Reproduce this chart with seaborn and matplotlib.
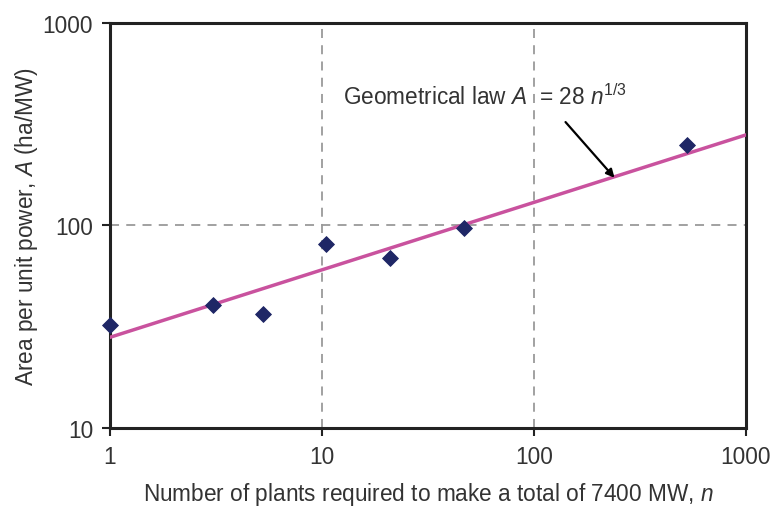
import numpy as np
import pandas as pd
import matplotlib
matplotlib.use("Agg")
import matplotlib.pyplot as plt
import seaborn as sns

# Data
n_plants = [1.0, 3.07, 5.3, 10.5, 20.9, 46.9, 525.0]
area = [32.3, 40.3, 36.4, 80.9, 68.7, 97.3, 250.0]

law_n = [1, 1000]
law_coef = 28
law_exp = 1 / 3

x_ticks = [1, 10, 100, 1000]
y_ticks = [10, 100, 1000]

sns.set_theme(style="white")
plt.rcParams['font.family'] = ['Liberation Sans', 'DejaVu Sans']
plt.rcParams['mathtext.fontset'] = 'custom'
plt.rcParams['mathtext.rm'] = 'Liberation Sans'
plt.rcParams['mathtext.it'] = 'Liberation Sans:italic'

text_col = '#333333'
fs = 16.3

fig = plt.figure(figsize=(7.73, 5.10), dpi=100)
ax = fig.add_axes([0.142, 0.159, 0.823, 0.794])

df_pts = pd.DataFrame({'n': n_plants, 'A': area})
law_x = np.array(law_n, dtype=float)
law_x = np.geomspace(law_x[0], law_x[1], 50)
df_law = pd.DataFrame({'n': law_x, 'A': law_coef * law_x ** law_exp})

ax.set_xscale('log')
ax.set_yscale('log')

sns.lineplot(data=df_law, x='n', y='A', ax=ax, color='#C9529E', lw=2.5, zorder=3)
sns.scatterplot(data=df_pts, x='n', y='A', ax=ax, marker='D', s=65,
                color='#1F2766', edgecolor='#1F2766', zorder=4, clip_on=False)

ax.set_xlim(1, 1000)
ax.set_ylim(10, 1000)
ax.set_xticks(x_ticks)
ax.set_xticklabels([str(v) for v in x_ticks])
ax.set_yticks(y_ticks)
ax.set_yticklabels([str(v) for v in y_ticks])
ax.minorticks_off()

for v in [10, 100]:
    ax.axvline(v, color='#9A9A9A', lw=1.3, ls=(0, (5, 4)), zorder=1)
ax.axhline(100, color='#9A9A9A', lw=1.3, ls=(0, (5, 4)), zorder=1)

for s in ax.spines.values():
    s.set_color('#222222')
    s.set_linewidth(2.2)

ax.tick_params(axis='both', which='major', direction='out', length=6, width=1.5,
               color='#222222', labelsize=fs, labelcolor=text_col, pad=6)
ax.tick_params(left=True, bottom=True)

ax.set_xlabel(r"Number of plants required to make a total of 7400 MW, $\mathit{n}$",
              fontsize=fs, color=text_col, labelpad=9)
ax.set_ylabel(r"Area per unit power, $\mathit{A}$ (ha/MW)",
              fontsize=fs, color=text_col, labelpad=2)

ax.text(12.6, 437, r"Geometrical law $\mathit{A}$  = 28 $\mathit{n}^{\mathrm{1/3}}$",
        fontsize=fs, color=text_col, va='center', ha='left')
ax.annotate('', xy=(240, 172), xytext=(141, 324),
            arrowprops=dict(arrowstyle='-|>', color='black', lw=1.6,
                            mutation_scale=12, shrinkA=0, shrinkB=0))

ax.grid(False)
fig.savefig('out.png', dpi=100)
